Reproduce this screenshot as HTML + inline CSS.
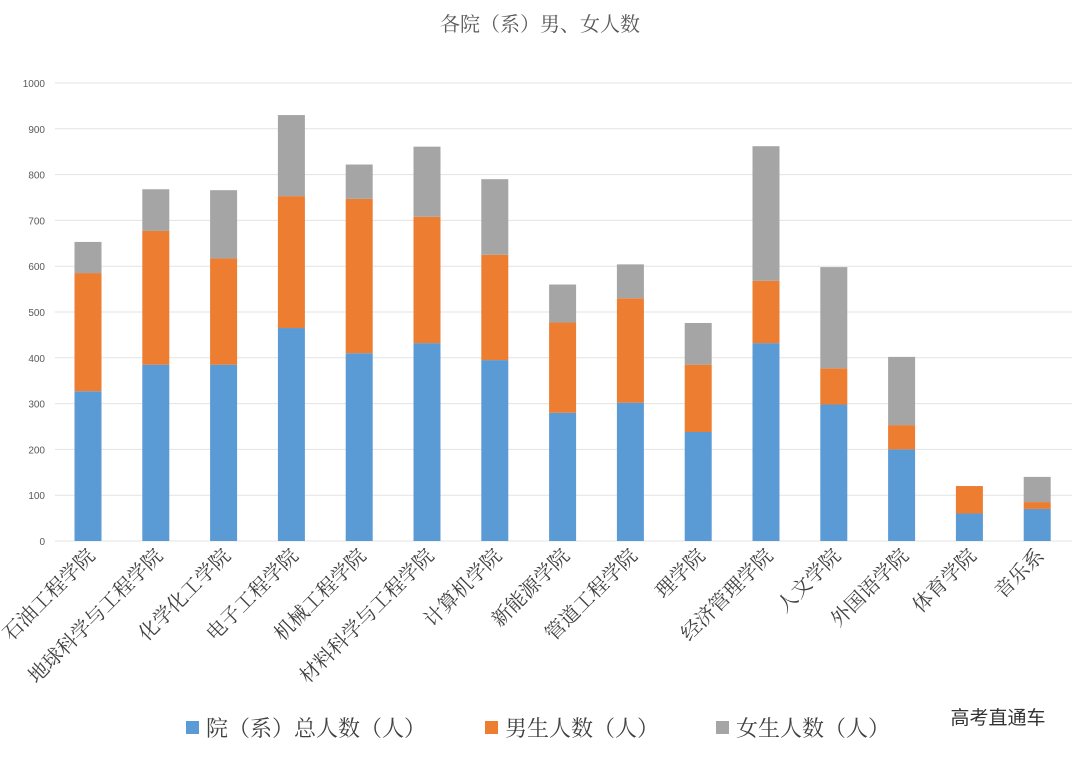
<!DOCTYPE html>
<html><head><meta charset="utf-8"><style>
body{margin:0;background:#fff;}
svg{display:block;font-family:"Liberation Serif","Noto Serif CJK SC",serif;}
</style></head><body>
<svg width="1080" height="757" viewBox="0 0 1080 757">
<rect width="1080" height="757" fill="#fff"/>
<text x="540" y="31" text-anchor="middle" font-size="20" fill="#595959">各院（系）男、女人数</text>
<g id="grid"></g><g id="bars"></g><g id="xl"></g>
<g>
<rect x="186" y="721" width="13" height="13" fill="#5b9bd5"/>
<text x="206" y="736" font-size="22" fill="#404040">院（系）总人数（人）</text>
<rect x="485" y="721" width="13" height="13" fill="#ed7d31"/>
<text x="505" y="736" font-size="22" fill="#404040">男生人数（人）</text>
<rect x="716" y="721" width="13" height="13" fill="#a5a5a5"/>
<text x="736" y="736" font-size="22" fill="#404040">女生人数（人）</text>
</g>
<text x="998" y="724" text-anchor="middle" font-size="19" fill="#333" font-family="'Liberation Sans','Noto Sans CJK SC',sans-serif">高考直通车</text>
</svg>
<script>
const categories=["石油工程学院","地球科学与工程学院","化学化工学院","电子工程学院","机械工程学院","材料科学与工程学院","计算机学院","新能源学院","管道工程学院","理学院","经济管理学院","人文学院","外国语学院","体育学院","音乐系"];
const blueVals=[327,385,385,465,410,432,395,280,302,238,432,298,200,60,70];
const orangeVals=[258,292,232,288,337,276,230,197,228,147,136,79,53,60,15];
const grayVals=[68,91,149,177,75,153,165,83,74,91,294,221,149,0,55];
const yTicks=[0,100,200,300,400,500,600,700,800,900,1000];
const NS="http://www.w3.org/2000/svg";
const y0=541,y1=83,x0=55,x1=1072;
function yS(v){return y0-(v/1000)*(y0-y1);}
function xS(i){return 88+i*67.8;}
function mk(t,a,p){const e=document.createElementNS(NS,t);for(const k in a)e.setAttribute(k,a[k]);p.appendChild(e);return e;}
const grid=document.getElementById('grid');
yTicks.forEach(v=>{
 const l=mk('line',{x1:x0,x2:x1,y1:yS(v),y2:yS(v),stroke:'#e3e3e3','stroke-width':1},grid);
 
 
 const t=mk('text',{x:45,y:yS(v)+4,'text-anchor':'end','font-size':10,fill:'#595959','font-family':'Liberation Sans, sans-serif'},grid);
 t.textContent=v;
 
 
});
const bars=document.getElementById('bars'),xl=document.getElementById('xl');
const w=27;
categories.forEach((c,i)=>{
 const cx=xS(i);let base=0;
 [[blueVals,'#5b9bd5','bar-total'],[orangeVals,'#ed7d31','bar-male'],[grayVals,'#a5a5a5','bar-female']].forEach(([arr,col,nm])=>{
  const v=arr[i];
  const r=mk('rect',{x:cx-w/2,y:yS(base+v),width:w,height:yS(base)-yS(base+v),fill:col},bars);
  
  
  base+=v;
 });
 const t=mk('text',{x:cx+8,y:557,'text-anchor':'end','font-size':20,fill:'#404040',transform:`rotate(-45 ${cx+8} 557)`},xl);
 t.textContent=c;
 
 
});
</script>
</body></html>
